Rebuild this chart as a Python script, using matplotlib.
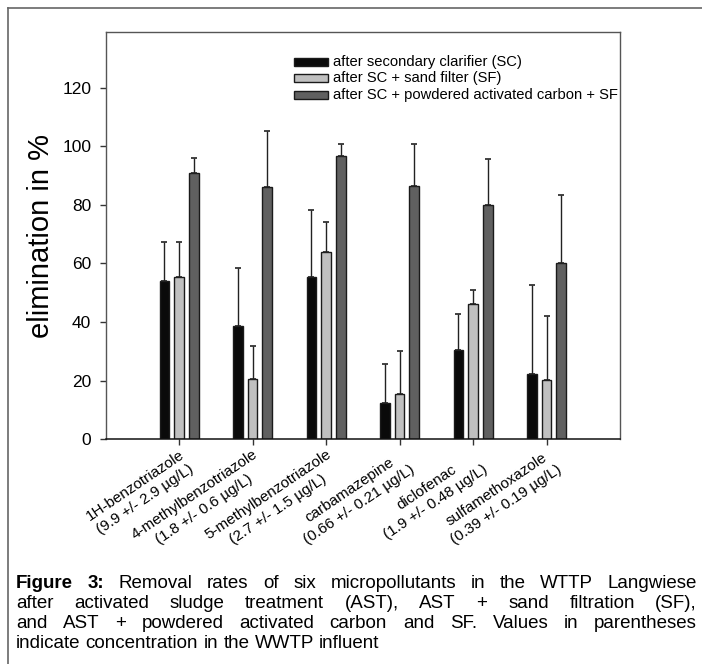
import numpy as np
import matplotlib
matplotlib.use("Agg")
import matplotlib.pyplot as plt
from matplotlib.lines import Line2D
from matplotlib.patches import Rectangle

plt.rcParams["font.family"] = ["Liberation Sans", "DejaVu Sans"]

# data
compounds = ["1H-benzotriazole", "4-methylbenzotriazole", "5-methylbenzotriazole",
             "carbamazepine", "diclofenac", "sulfamethoxazole"]
influent = ["9.9 +/- 2.9 µg/L", "1.8 +/- 0.6 µg/L", "2.7 +/- 1.5 µg/L",
            "0.66 +/- 0.21 µg/L", "1.9 +/- 0.48 µg/L", "0.39 +/- 0.19 µg/L"]

series_labels = ["after secondary clarifier (SC)",
                 "after SC + sand filter (SF)",
                 "after SC + powdered activated carbon + SF"]
elim_sc = [54.1, 38.8, 55.4, 12.3, 30.4, 22.2]
err_sc = [13.1, 19.5, 22.8, 13.3, 12.3, 30.6]
elim_sf = [55.4, 20.5, 63.8, 15.5, 46.1, 20.3]
err_sf = [12.1, 11.4, 10.2, 14.6, 4.8, 21.9]
elim_pac = [90.9, 86.0, 96.8, 86.4, 79.8, 60.3]
err_pac = [5.1, 19.1, 4.1, 14.4, 15.9, 23.1]
bar_colors = ["#0a0a0a", "#c0c0c0", "#606060"]

caption_lines = [
    "Figure 3: Removal rates of six micropollutants in the WTTP Langwiese",
    "after activated sludge treatment (AST), AST + sand filtration (SF),",
    "and AST + powdered activated carbon and SF. Values in parentheses",
    "indicate concentration in the WWTP influent",
]

W, H = 702, 664
fx = lambda px: px / W
fy = lambda py: 1 - py / H

fig = plt.figure(figsize=(W / 100, H / 100), dpi=100)
ax_l, ax_r, ax_t, ax_b = 105.6, 620, 32, 439.3
ax = fig.add_axes([fx(ax_l), fy(ax_b), fx(ax_r - ax_l), (ax_b - ax_t) / H])

x = np.arange(len(compounds))
series = [(elim_sc, err_sc), (elim_sf, err_sf), (elim_pac, err_pac)]
for j, (vals, errs) in enumerate(series):
    pos = x + (j - 1) * 0.2
    ax.bar(pos, vals, width=0.13, color=bar_colors[j], edgecolor="#1a1a1a",
           linewidth=1, zorder=2)
    # only the upper half of the error bar is shown
    ax.errorbar(pos, vals, yerr=[np.zeros(len(errs)), errs], fmt="none",
                ecolor="#222222", elinewidth=1, capsize=2.0, capthick=1.2, zorder=3)

ax.set_xlim(-1, 6)
ax.set_ylim(0, 139)
ax.set_yticks(range(0, 121, 20))
ax.set_xticks(x)
ax.set_xticklabels([f"{c}\n({v})" for c, v in zip(compounds, influent)],
                   rotation=34, ha="right", rotation_mode="anchor",
                   multialignment="center", fontsize=11, linespacing=1.3)
ax.tick_params(axis="y", direction="out", length=4.3, width=1, pad=6,
               labelsize=12.5, color="#333333")
ax.tick_params(axis="x", direction="out", length=4, width=1, pad=2, color="#333333")
for side in ["left", "top", "right"]:
    ax.spines[side].set_color("#555555")
    ax.spines[side].set_linewidth(1)
ax.spines["bottom"].set_color("#111111")
ax.spines["bottom"].set_linewidth(1.1)
ax.set_ylabel("elimination in %", fontsize=21)
ax.yaxis.set_label_coords(-(ax_l - 55) / (ax_r - ax_l), 0.5)

# legend drawn by hand to match the spacing
for i, lab in enumerate(series_labels):
    yc = 61.7 + 16.7 * i
    fig.add_artist(Rectangle((fx(294), fy(yc + 4)), fx(34), 8 / H,
                             transform=fig.transFigure, facecolor=bar_colors[i],
                             edgecolor="#1a1a1a", linewidth=1))
    fig.text(fx(333), fy(yc), lab, fontsize=10.6, va="center", ha="left")

# outer frame (top and left visible)
fig.add_artist(Line2D([fx(7.5), 1], [fy(8), fy(8)], color="#666666", lw=1.2,
                      transform=fig.transFigure))
fig.add_artist(Line2D([fx(7.5), fx(7.5)], [fy(8), 0], color="#666666", lw=1.2,
                      transform=fig.transFigure))

# justified caption
renderer = fig.canvas.get_renderer()
left_px, right_px = 16, 697
cap_size = 13.5
for k, line in enumerate(caption_lines):
    base = 588 + 20 * k
    words = line.split(" ")
    texts = []
    for n, w in enumerate(words):
        bold = (k == 0 and n < 2)
        t = fig.text(0, fy(base), w, fontsize=cap_size, va="baseline", ha="left",
                     fontweight="bold" if bold else "normal")
        texts.append(t)
    widths = [t.get_window_extent(renderer).width for t in texts]
    if k < len(caption_lines) - 1:
        gap = (right_px - left_px - sum(widths)) / (len(words) - 1)
    else:
        gap = cap_size * 100 / 72 * 0.278
    xp = left_px
    for t, wd in zip(texts, widths):
        t.set_x(fx(xp))
        xp += wd + gap

fig.savefig("out.png", dpi=100)
